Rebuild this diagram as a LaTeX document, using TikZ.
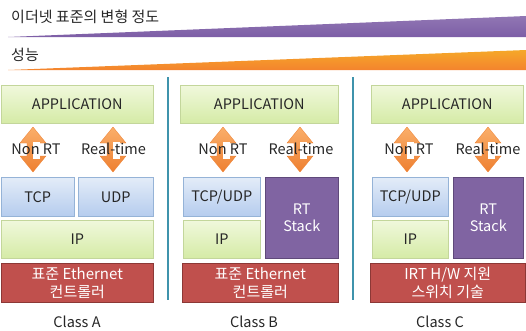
\documentclass[tikz,border=0pt]{standalone}
\usepackage{fontspec}
\setmainfont{Noto Sans CJK KR}
\usetikzlibrary{shadings}
\definecolor{grnT}{HTML}{F0F8DC}
\definecolor{grnB}{HTML}{D5EBA6}
\definecolor{grnD}{HTML}{C3D69B}
\definecolor{bluT}{HTML}{E3ECF8}
\definecolor{bluB}{HTML}{B5CCEE}
\definecolor{bluD}{HTML}{95B3D7}
\definecolor{purF}{HTML}{8064A2}
\definecolor{purD}{HTML}{5F497A}
\definecolor{redF}{HTML}{C0504D}
\definecolor{redD}{HTML}{8C3836}
\definecolor{orgT}{HTML}{FAAE6A}
\definecolor{orgB}{HTML}{EE8031}
\definecolor{tealL}{HTML}{3F93AC}
\definecolor{wedP}{HTML}{7D5EA6}
\definecolor{wedO}{HTML}{F39233}
\tikzset{
  base/.style={anchor=north west, inner sep=0pt, font=\fontsize{14.5}{17}\selectfont, align=center, line width=0.6pt},
  grnbox/.style={base, draw=grnD, top color=grnT, bottom color=grnB, text=black!85},
  blubox/.style={base, draw=bluD, top color=bluT, bottom color=bluB, text=black!85},
  purbox/.style={base, draw=purD, fill=purF, text=white},
  redbox/.style={base, draw=redD, fill=redF, text=white, font=\fontsize{15}{18}\selectfont},
  lbl/.style={font=\fontsize{14.5}{17}\selectfont, inner sep=0pt, text=black!85},
  sep/.style={draw=tealL, line width=1.4pt},
  pics/dblarrow/.style={code={
    \shade[top color=orgT, bottom color=orgB, draw=orgB, line width=0.3pt]
      (0,-22.5) -- (13,-6.5) -- (6,-6.5) -- (6,6.5) -- (13,6.5) -- (0,22.5)
      -- (-13,6.5) -- (-6,6.5) -- (-6,-6.5) -- (-13,-6.5) -- cycle;
    \fill[white] (-0.5,-8) rectangle (6.5,9);}}
}
\begin{document}
\begin{tikzpicture}[x=1pt,y=-1pt]
\useasboundingbox (0,0) rectangle (526,330);
% wedges
\shade[top color=wedP!85!white, bottom color=wedP] (8,37) -- (526,16) -- (526,37) -- cycle;
\node[anchor=west, inner sep=0pt, font=\fontsize{15}{17}\selectfont, text=black!85] (t1) at (11,17) {이더넷 표준의 변형 정도};
\shade[top color=wedO!80!yellow, bottom color=wedO!90!red] (8,70) -- (526,50) -- (526,70) -- cycle;
\node[anchor=west, inner sep=0pt, font=\fontsize{15}{17}\selectfont, text=black!85] (t2) at (11,55) {성능};
% separators
\coordinate (s1a) at (168,77); \coordinate (s1b) at (168,300);
\coordinate (s2a) at (353,77); \coordinate (s2b) at (353,300);
\draw[sep] (s1a) -- (s1b);
\draw[sep] (s2a) -- (s2b);
% Class A
\node[grnbox, minimum width=152pt, minimum height=38pt] (appA) at (1,85) {APPLICATION};
\node[blubox, minimum width=73pt, minimum height=39pt] (tcpA) at (1,177) {TCP};
\node[blubox, minimum width=75pt, minimum height=39pt] (udpA) at (78,177) {UDP};
\node[grnbox, minimum width=152pt, minimum height=38pt] (ipA) at (1,220) {IP};
\node[redbox, minimum width=152pt, minimum height=39pt] (ethA) at (1,263) {표준 Ethernet\\컨트롤러};
\pic at (33,149.5) {dblarrow};
\pic at (113,149.5) {dblarrow};
\node[lbl] (nrA) at (36,149) {Non RT};
\node[lbl] (rtA) at (113.5,149) {Real-time};
\node[lbl] (cA) at (77,322) {Class A};
% Class B
\node[grnbox, minimum width=158pt, minimum height=38pt] (appB) at (180,85) {APPLICATION};
\node[blubox, minimum width=77pt, minimum height=39pt] (tcpB) at (183,177) {TCP/UDP};
\node[grnbox, minimum width=77pt, minimum height=38pt] (ipB) at (183,220) {IP};
\node[purbox, minimum width=73pt, minimum height=81pt] (rtsB) at (265,177) {RT\\Stack};
\node[redbox, minimum width=156pt, minimum height=39pt] (ethB) at (182,263) {표준 Ethernet\\컨트롤러};
\pic at (223,149.5) {dblarrow};
\pic at (300,149.5) {dblarrow};
\node[lbl] (nrB) at (223,149) {Non RT};
\node[lbl] (rtB) at (301,149) {Real-time};
\node[lbl] (cB) at (254,322) {Class B};
% Class C
\node[grnbox, minimum width=152pt, minimum height=38pt] (appC) at (371,85) {APPLICATION};
\node[blubox, minimum width=76pt, minimum height=39pt] (tcpC) at (372,177) {TCP/UDP};
\node[grnbox, minimum width=76pt, minimum height=38pt] (ipC) at (372,220) {IP};
\node[purbox, minimum width=70pt, minimum height=81pt] (rtsC) at (453,177) {RT\\Stack};
\node[redbox, minimum width=155pt, minimum height=39pt] (ethC) at (370,263) {IRT H/W 지원\\스위치 기술};
\pic at (407,149.5) {dblarrow};
\pic at (488,149.5) {dblarrow};
\node[lbl] (nrC) at (409,149) {Non RT};
\node[lbl] (rtC) at (488,149) {Real-time};
\node[lbl] (cC) at (440,322) {Class C};
\end{tikzpicture}
\end{document}
